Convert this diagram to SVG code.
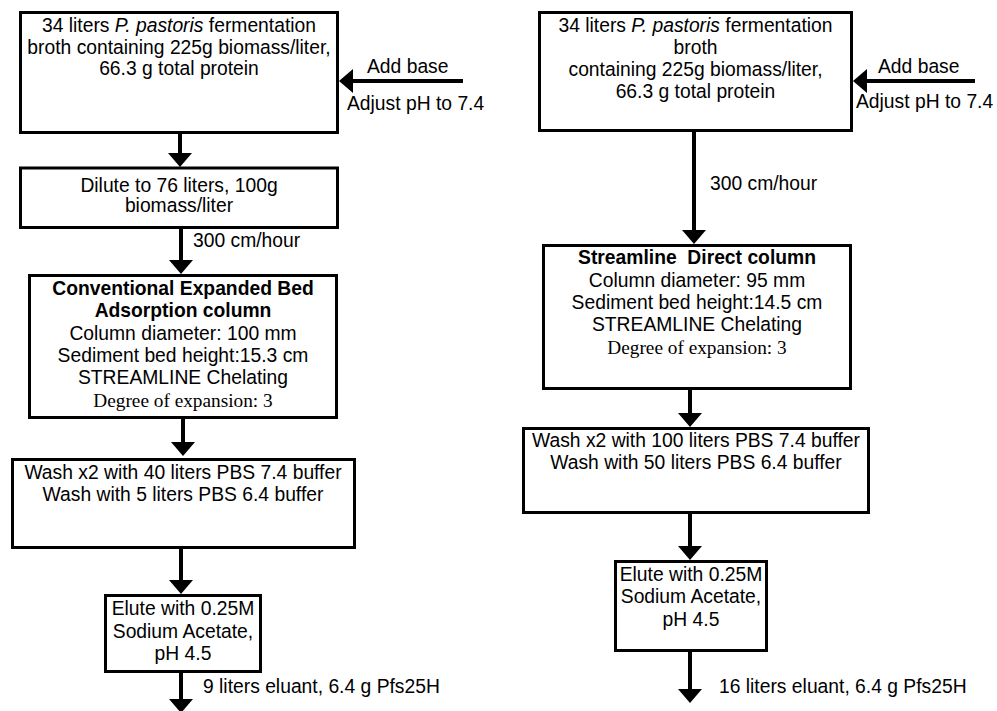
<svg xmlns="http://www.w3.org/2000/svg" width="997" height="711" viewBox="0 0 997 711">
<style>
  .box { fill: #ffffff; stroke: #000000; stroke-width: 3; }
  .t { font-family: "Liberation Sans", Arial, sans-serif; font-size: 19.3px; fill: #000000; }
  .c { text-anchor: middle; }
  .b { font-weight: bold; }
  .tm { font-family: "Liberation Serif", "Times New Roman", serif; font-size: 19.3px; fill: #000000; text-anchor: middle; }
  .conn { stroke: #000000; stroke-width: 4; fill: none; marker-end: url(#ah); }
</style>
<defs>
  <marker id="ah" markerUnits="userSpaceOnUse" viewBox="0 0 14 24" markerWidth="14" markerHeight="24" refX="4" refY="12" orient="auto">
    <path d="M0,0 L14,12 L0,24 Z" fill="#000000"/>
  </marker>
</defs>
<rect width="997" height="711" fill="#ffffff"/>

<g id="connectors">
  <line class="conn" x1="463" y1="81" x2="349" y2="81"/>
  <line class="conn" x1="180" y1="132" x2="180" y2="157"/>
  <line class="conn" x1="181" y1="227" x2="181" y2="264"/>
  <line class="conn" x1="183" y1="417" x2="183" y2="446"/>
  <line class="conn" x1="181" y1="547" x2="181" y2="584"/>
  <line class="conn" x1="181" y1="663" x2="181" y2="703"/>
  <line class="conn" x1="975" y1="81" x2="863" y2="81"/>
  <line class="conn" x1="694" y1="130" x2="694" y2="234"/>
  <line class="conn" x1="690" y1="388" x2="690" y2="417"/>
  <line class="conn" x1="690" y1="512" x2="690" y2="550"/>
  <line class="conn" x1="690" y1="650" x2="690" y2="693"/>
  <text class="t" x="367" y="73">Add base</text>
  <text class="t" x="347" y="110">Adjust pH to 7.4</text>
  <text class="t" x="193" y="247">300 cm/hour</text>
  <text class="t" x="203" y="693">9 liters eluant, 6.4 g Pfs25H</text>
  <text class="t" x="878" y="73">Add base</text>
  <text class="t" x="856" y="108">Adjust pH to 7.4</text>
  <text class="t" x="710" y="190">300 cm/hour</text>
  <text class="t" x="719" y="693">16 liters eluant, 6.4 g Pfs25H</text>
</g>

<g id="L1">
  <rect class="box" x="20.5" y="12.5" width="317" height="120"/>
  <text class="t c" x="179" y="32">34 liters <tspan font-style="italic">P. pastoris</tspan> fermentation</text>
  <text class="t c" x="179" y="54">broth containing 225g biomass/liter,</text>
  <text class="t c" x="179" y="75">66.3 g total protein</text>
</g>
<g id="L2">
  <rect class="box" x="20.5" y="168" width="317" height="59.5"/>
  <text class="t c" x="179" y="192">Dilute to 76 liters, 100g</text>
  <text class="t c" x="179" y="212">biomass/liter</text>
</g>
<g id="L3">
  <rect class="box" x="29.5" y="275.5" width="307" height="142"/>
  <text class="t c b" x="183" y="295">Conventional Expanded Bed</text>
  <text class="t c b" x="183" y="317">Adsorption column</text>
  <text class="t c" x="183" y="340">Column diameter: 100 mm</text>
  <text class="t c" x="183" y="362">Sediment bed height:15.3 cm</text>
  <text class="t c" x="183" y="384">STREAMLINE Chelating</text>
  <text class="tm" x="183" y="407">Degree of expansion: 3</text>
</g>
<g id="L4">
  <rect class="box" x="12.5" y="459.5" width="342" height="88"/>
  <text class="t c" x="183" y="479">Wash x2 with 40 liters PBS 7.4 buffer</text>
  <text class="t c" x="183" y="501">Wash with 5 liters PBS 6.4 buffer</text>
</g>
<g id="L5">
  <rect class="box" x="105.5" y="595.5" width="155" height="76"/>
  <text class="t c" x="183" y="615">Elute with 0.25M</text>
  <text class="t c" x="183" y="638">Sodium Acetate,</text>
  <text class="t c" x="183" y="660">pH 4.5</text>
</g>

<g id="R1">
  <rect class="box" x="539.5" y="12.5" width="312" height="118"/>
  <text class="t c" x="695.5" y="32">34 liters <tspan font-style="italic">P. pastoris</tspan> fermentation</text>
  <text class="t c" x="695.5" y="54">broth</text>
  <text class="t c" x="695.5" y="76">containing 225g biomass/liter,</text>
  <text class="t c" x="695.5" y="98">66.3 g total protein</text>
</g>
<g id="R2">
  <rect class="box" x="543.5" y="245.5" width="307" height="143"/>
  <text class="t c b" x="697" y="264">Streamline&#160; Direct column</text>
  <text class="t c" x="697" y="287">Column diameter: 95 mm</text>
  <text class="t c" x="697" y="309">Sediment bed height:14.5 cm</text>
  <text class="t c" x="697" y="331">STREAMLINE Chelating</text>
  <text class="tm" x="697" y="354">Degree of expansion: 3</text>
</g>
<g id="R3">
  <rect class="box" x="523.5" y="428.5" width="345" height="84"/>
  <text class="t c" x="696" y="447">Wash x2 with 100 liters PBS 7.4 buffer</text>
  <text class="t c" x="696" y="469">Wash with 50 liters PBS 6.4 buffer</text>
</g>
<g id="R4">
  <rect class="box" x="615.5" y="561.5" width="151" height="89"/>
  <text class="t c" x="691" y="581">Elute with 0.25M</text>
  <text class="t c" x="691" y="603">Sodium Acetate,</text>
  <text class="t c" x="691" y="626">pH 4.5</text>
</g>
</svg>
